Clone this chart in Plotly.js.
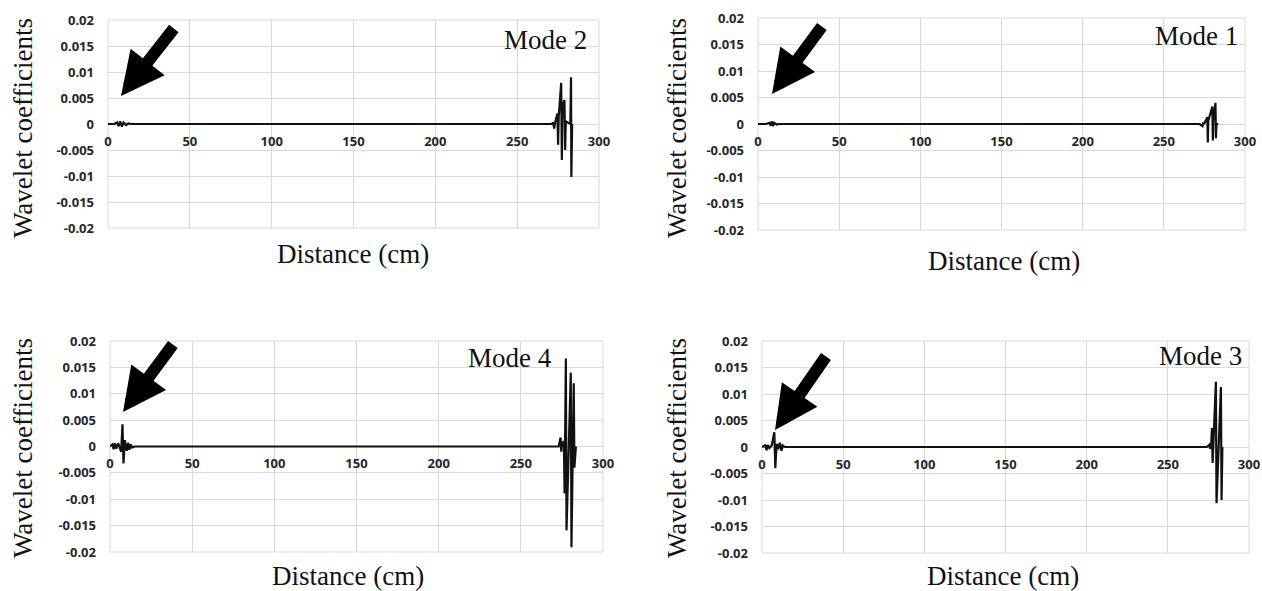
<!DOCTYPE html>
<html>
<head>
<meta charset="utf-8">
<script src="https://cdn.plot.ly/plotly-3.0.1.min.js"></script>
<style>
html,body{margin:0;padding:0;background:#fff;}
#chart{width:1262px;height:591px;}
</style>
</head>
<body>
<div id="chart"></div>
<script>
// ---- data ----
const xTickVals = [0, 50, 100, 150, 200, 250, 300];
const xTickText = ['0', '50', '100', '150', '200', '250', '300'];
const yTickVals = [0.02, 0.015, 0.01, 0.005, 0, -0.005, -0.01, -0.015, -0.02];
const yTickText = ['0.02', '0.015', '0.01', '0.005', '0', '-0.005', '-0.01', '-0.015', '-0.02'];

const modeLabels = ['Mode 2', 'Mode 1', 'Mode 4', 'Mode 3'];
const yTitleText = 'Wavelet coefficients';
const xTitleText = 'Distance (cm)';

const mode2X = [0, 4, 5.5, 6.5, 7.5, 8.5, 9.5, 11, 12.5, 14, 271, 272, 272.6, 273.2, 274.6, 275.0, 275.4, 276.9, 277.3, 277.7, 278.9, 279.3, 279.7, 282.5, 282.9, 283.1, 283.6];
const mode2Y = [0, 0, 0.0003, -0.0004, 0.0005, -0.0005, 0.0003, -0.0002, 0.0001, 0, 0, 0.0003, -0.0009, 0.0003, 0.002, -0.004, 0.0015, 0.0079, -0.0069, 0.0035, 0.0046, -0.005, 0.0005, 0, 0.009, -0.0102, 0];

const mode1X = [0, 5, 7, 8, 8.6, 9.2, 10, 11.5, 13, 272, 273.8, 274.3, 274.8, 276.8, 277.1, 277.4, 279.9, 280.2, 280.5, 281.8, 282.1, 282.4, 283.5];
const mode1Y = [0, 0, 0.0002, -0.0003, 0.0005, -0.0004, 0.0002, -0.0001, 0, 0, -0.0004, 0.0003, 0, 0.0013, -0.0035, 0.0006, 0.0033, -0.0031, 0.0008, 0.004, -0.0027, 0, 0];

const mode4X = [0, 1.5, 2.2, 3, 3.8, 5, 6.8, 7.6, 8.2, 9, 10.2, 11, 11.8, 12.6, 13.5, 15, 273, 274.2, 274.6, 275.0, 276.2, 276.6, 277.4, 277.8, 280.4, 280.8, 282.2, 282.6, 283.5];
const mode4Y = [0, 0.0004, -0.0005, 0.0006, -0.0004, 0.0006, -0.001, 0.0042, -0.0032, 0.0012, -0.0008, 0.0007, -0.0006, 0.0004, -0.0002, 0, 0, 0.0017, -0.001, 0.0005, 0.001, -0.0089, 0.0167, -0.0159, 0.014, -0.0191, 0.012, -0.004, 0];

const mode3X = [0, 2, 2.8, 3.5, 4.5, 6, 7.6, 8.2, 9, 10, 11, 12, 12.8, 14, 274, 275.5, 276, 276.6, 277.2, 277.6, 279.6, 280.0, 282.7, 283.1, 283.6];
const mode3Y = [0, 0.0003, -0.0006, 0.0004, -0.0002, 0.0003, 0.0028, -0.004, 0.0006, -0.0004, 0.0008, -0.0007, 0.0003, 0, 0, 0.0004, -0.0003, 0, 0.0036, -0.003, 0.0123, -0.0106, 0.0113, -0.0100, 0];

// ---- layout helpers ----
const W = 1262, H = 591;
const fx = px => px / W;
const fy = py => 1 - py / H;

// panels: plot box in pixels, title positions, arrow tip/tail
const panels = [
  {xs: mode2X, ys: mode2Y, box: [108, 20, 599, 228], zero: 124, ytitle: [23, 128], xtitle: [353, 254], mode: [545, 40], tip: [121, 96], tail: [175, 27]},
  {xs: mode1X, ys: mode1Y, box: [758, 18, 1245, 230], zero: 124, ytitle: [677, 128], xtitle: [1004, 261], mode: [1196, 36], tip: [772, 94], tail: [823, 25]},
  {xs: mode4X, ys: mode4Y, box: [110, 341, 603, 552], zero: 446, ytitle: [23, 448], xtitle: [348, 576], mode: [510, 358], tip: [123, 412], tail: [174, 343]},
  {xs: mode3X, ys: mode3Y, box: [762, 341, 1249, 553], zero: 447, ytitle: [677, 448], xtitle: [1003, 576], mode: [1200, 356], tip: [775, 430], tail: [827, 355]}
];

const tickFont = {family: 'Open Sans', size: 13, color: '#262626', weight: 'bold'};
const serif = '"Liberation Serif", "Times New Roman", serif';

const traces = [];
const layout = {
  width: W, height: H,
  margin: {l: 0, r: 0, t: 0, b: 0, pad: 0},
  paper_bgcolor: '#ffffff',
  plot_bgcolor: 'rgba(0,0,0,0)',
  showlegend: false,
  annotations: [],
  shapes: []
};

panels.forEach((p, i) => {
  const n = i === 0 ? '' : String(i + 1);
  traces.push({
    type: 'scatter', mode: 'lines',
    x: p.xs, y: p.ys,
    xaxis: 'x' + n, yaxis: 'y' + n,
    line: {color: '#111111', width: 2.2},
    hoverinfo: 'skip'
  });
  const [x0, y0, x1, y1] = p.box;
  layout['xaxis' + n] = {
    domain: [fx(x0), fx(x1)],
    range: [0, 300],
    tickmode: 'array', tickvals: xTickVals, ticktext: xTickText,
    anchor: 'free', position: fy(p.zero),
    showgrid: true, gridcolor: '#d9d9d9', gridwidth: 1,
    zeroline: false, showline: false, ticks: '',
    ticklabelstandoff: 8,
    tickfont: tickFont,
    fixedrange: true
  };
  layout['yaxis' + n] = {
    domain: [fy(y1), fy(y0)],
    range: [-0.02, 0.02],
    tickmode: 'array', tickvals: yTickVals, ticktext: yTickText,
    anchor: 'x' + n,
    showgrid: true, gridcolor: '#d9d9d9', gridwidth: 1,
    zeroline: false, showline: false, ticks: '',
    ticklabelstandoff: 13,
    tickfont: tickFont,
    fixedrange: true
  };
  layout.shapes.push({
    type: 'rect', xref: 'paper', yref: 'paper',
    x0: fx(x0), x1: fx(x1), y0: fy(y1), y1: fy(y0),
    line: {color: '#d9d9d9', width: 1}, layer: 'below'
  });
  layout.annotations.push({
    xref: 'paper', yref: 'paper', x: fx(p.ytitle[0]), y: fy(p.ytitle[1]),
    text: yTitleText, textangle: -90, showarrow: false,
    xanchor: 'center', yanchor: 'middle',
    font: {family: serif, size: 27, color: '#111111'}
  });
  layout.annotations.push({
    xref: 'paper', yref: 'paper', x: fx(p.xtitle[0]), y: fy(p.xtitle[1]),
    text: xTitleText, showarrow: false,
    xanchor: 'center', yanchor: 'middle',
    font: {family: serif, size: 27, color: '#111111'}
  });
  layout.annotations.push({
    xref: 'paper', yref: 'paper', x: fx(p.mode[0]), y: fy(p.mode[1]),
    text: modeLabels[i], showarrow: false,
    xanchor: 'center', yanchor: 'middle',
    font: {family: serif, size: 27, color: '#111111'}
  });
  layout.annotations.push({
    xref: 'paper', yref: 'paper', x: fx(p.tip[0]), y: fy(p.tip[1]),
    text: '', showarrow: true,
    axref: 'pixel', ayref: 'pixel',
    ax: p.tail[0] - p.tip[0], ay: p.tail[1] - p.tip[1],
    arrowhead: 2, arrowsize: 0.72, arrowwidth: 12, arrowcolor: '#000000',
    standoff: 0, startstandoff: 0
  });
});

Plotly.newPlot('chart', traces, layout, {displayModeBar: false, staticPlot: true});
</script>
</body>
</html>
